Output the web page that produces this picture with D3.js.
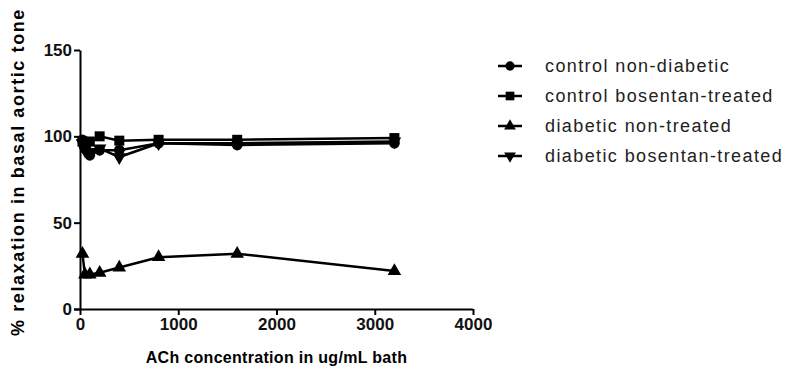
<!DOCTYPE html>
<html>
<head>
<meta charset="utf-8">
<script src="https://cdn.jsdelivr.net/npm/d3@7"></script>
<style>
  body { margin: 0; background: #fff; }
  svg { font-family: Arial, "Liberation Sans", sans-serif; }
</style>
</head>
<body>
<div id="chart"></div>
<script>
// ACh concentrations (ug/mL)
const concentrations = [25, 50, 100, 200, 400, 800, 1600, 3200]

const controlNonDiabetic = [98, 93, 89, 92, 92, 96, 95, 96]
const controlBosentan = [97, 96, 97, 100, 97.5, 98, 98, 99]
const diabeticNonTreated = [32, 20, 20, 21, 24, 30, 32, 22]
const diabeticBosentan = [96, 92, 91, 93, 88, 96, 96, 97]

const seriesNames = ['control non-diabetic', 'control bosentan-treated', 'diabetic non-treated', 'diabetic bosentan-treated']
const seriesSymbols = ['circle', 'square', 'triangle', 'triangleDown']

const xTicks = [0, 1000, 2000, 3000, 4000]
const yTicks = [0, 50, 100, 150]

;(() => {
  const width = 786
  const height = 370
  const margin = { left: 80, right: 313, top: 50, bottom: 61 }

  const svg = d3.select('#chart')
    .append('svg')
    .attr('width', width)
    .attr('height', height)

  const xScale = d3.scaleLinear().domain([0, 4000]).range([margin.left, width - margin.right])
  const yScale = d3.scaleLinear().domain([0, 150]).range([height - margin.bottom, margin.top])

  // axes
  const xAxis = d3.axisBottom(xScale).tickValues(xTicks).tickFormat(d3.format('d'))
    .tickSize(6).tickSizeOuter(0).tickPadding(3)
  const yAxis = d3.axisLeft(yScale).tickValues(yTicks).tickFormat(d3.format('d'))
    .tickSize(6).tickSizeOuter(0).tickPadding(2)

  const gx = svg.append('g')
    .attr('transform', `translate(0, ${yScale(0)})`)
    .call(xAxis)
  const gy = svg.append('g')
    .attr('transform', `translate(${xScale(0)}, 0)`)
    .call(yAxis)

  ;[gx, gy].forEach(g => {
    g.select('.domain').attr('stroke', '#000').attr('stroke-width', 2)
    g.selectAll('.tick line').attr('stroke', '#000').attr('stroke-width', 2)
    g.selectAll('.tick text')
      .attr('fill', '#111')
      .style('font-size', '17px')
      .style('font-weight', 'bold')
  })
  // extend axis lines so the corner joins
  gx.select('.domain').attr('d', `M${xScale(0) - 6},0.5H${xScale(4000)}`)

  // axis titles
  svg.append('text')
    .attr('x', (xScale(0) + xScale(4000)) / 2)
    .attr('y', 363)
    .attr('text-anchor', 'middle')
    .style('font-size', '16px')
    .style('font-weight', 'bold')
    .style('letter-spacing', '0.3px')
    .text('ACh concentration in ug/mL bath')

  svg.append('text')
    .attr('transform', `translate(24, 172) rotate(-90)`)
    .attr('text-anchor', 'middle')
    .style('font-size', '18px')
    .style('font-weight', 'bold')
    .style('letter-spacing', '1.6px')
    .text('% relaxation in basal aortic tone')

  const symbolType = {
    circle: d3.symbolCircle,
    square: d3.symbolSquare,
    triangle: d3.symbolTriangle,
    triangleDown: d3.symbolTriangle
  }
  const symbolSize = { circle: 90, square: 100, triangle: 80, triangleDown: 80 }

  const drawMarker = (g, kind, x, y, scale = 1) => {
    g.append('path')
      .attr('d', d3.symbol().type(symbolType[kind]).size(symbolSize[kind] * scale)())
      .attr('transform', `translate(${x}, ${y})` + (kind === 'triangleDown' ? ' rotate(180)' : ''))
      .attr('fill', '#000')
  }

  const allSeries = [controlNonDiabetic, controlBosentan, diabeticNonTreated, diabeticBosentan]

  const line = d3.line()
    .x(d => xScale(d.x))
    .y(d => yScale(d.y))

  const plot = svg.append('g')
  allSeries.forEach((values, si) => {
    const points = concentrations.map((c, i) => ({ x: c, y: values[i] }))
    const g = plot.append('g')
    g.append('path')
      .datum(points)
      .attr('d', line)
      .attr('fill', 'none')
      .attr('stroke', '#000')
      .attr('stroke-width', 2.5)
    points.forEach(p => drawMarker(g, seriesSymbols[si], xScale(p.x), yScale(p.y)))
  })

  // legend
  const legend = svg.append('g').attr('transform', 'translate(498, 66)')
  seriesNames.forEach((name, i) => {
    const row = legend.append('g').attr('transform', `translate(0, ${i * 30})`)
    row.append('line')
      .attr('x1', 0).attr('x2', 24)
      .attr('y1', 0).attr('y2', 0)
      .attr('stroke', '#000')
      .attr('stroke-width', 2.5)
    drawMarker(row, seriesSymbols[i], 12, 0, 0.75)
    row.append('text')
      .attr('x', 47)
      .attr('y', 6)
      .style('font-size', '18px')
      .style('letter-spacing', '1.4px')
      .attr('fill', '#222')
      .text(name)
  })
})()
</script>
</body>
</html>
